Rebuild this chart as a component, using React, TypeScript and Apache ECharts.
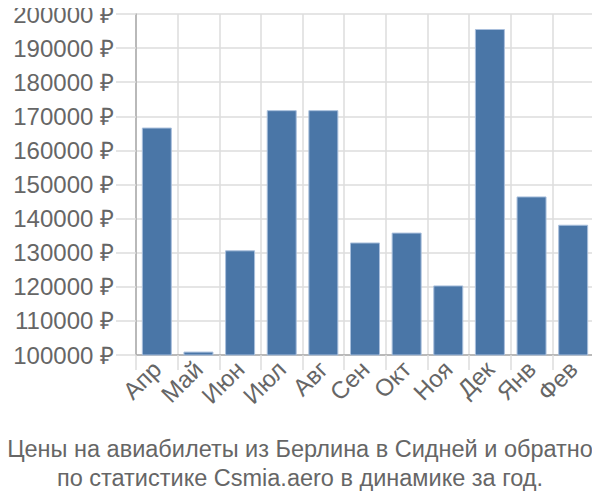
import React, { useEffect, useRef } from "react";
import * as echarts from "echarts";

const categories = ["Апр", "Май", "Июн", "Июл", "Авг", "Сен", "Окт", "Ноя", "Дек", "Янв", "Фев"];
const prices = [166700, 101000, 130700, 171800, 171800, 133000, 135900, 120400, 195600, 146500, 138200];
const titleLines = [
  "Цены на авиабилеты из Берлина в Сидней и обратно",
  "по статистике Csmia.aero в динамике за год.",
];

export default function App() {
  const ref = useRef<HTMLDivElement>(null);
  useEffect(() => {
    const chart = echarts.init(ref.current!, null, { renderer: "svg" });
    chart.setOption({
      animation: false,
      textStyle: { fontFamily: "Liberation Sans" },
      title: {
        text: titleLines.join("\n"),
        left: "center",
        top: 429,
        textStyle: { fontSize: 23.5, fontWeight: "normal", color: "#666", lineHeight: 29, fontFamily: "Liberation Sans" },
      },
      grid: { left: 136, right: 6, top: 14, bottom: 145 },
      xAxis: {
        type: "category",
        data: categories,
        boundaryGap: true,
        axisLine: { show: true, lineStyle: { color: "#aaa", width: 1.5 } },
        axisTick: { show: true, length: 15, lineStyle: { color: "#ddd", width: 1.5 } },
        splitLine: { show: true, lineStyle: { color: "#ddd", width: 1.5 } },
        axisLabel: { rotate: 45, fontSize: 24, color: "#666", margin: 10, interval: 0 },
      },
      yAxis: {
        type: "value",
        min: 100000,
        max: 200000,
        interval: 10000,
        axisLine: { show: true, lineStyle: { color: "#aaa", width: 1.5 } },
        axisTick: { show: true, length: 20, lineStyle: { color: "#ddd", width: 1.5 } },
        splitLine: { show: true, lineStyle: { color: "#ddd", width: 1.5 } },
        axisLabel: { fontSize: 24, color: "#666", margin: 22, formatter: (v: number) => `${v} ₽` },
      },
      series: [
        {
          type: "bar",
          data: prices,
          barCategoryGap: "28%",
          itemStyle: { color: "#4a76a7", borderColor: "#a9bfdc", borderWidth: 1 },
        },
      ],
    });
    return () => chart.dispose();
  }, []);
  return <div ref={ref} style={{ width: 600, height: 500, margin: -8 }} />;
}
